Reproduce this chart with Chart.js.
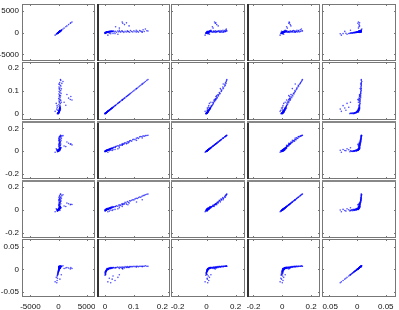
<!DOCTYPE html>
<html>
<head>
<meta charset="utf-8">
<script src="https://cdn.jsdelivr.net/npm/chart.js@4.4.0/dist/chart.umd.min.js"></script>
<style>
html, body { margin: 0; padding: 0; background: #fff; }
#wrap { position: relative; width: 399px; height: 310px; overflow: hidden; }
#wrap canvas { position: absolute; }
</style>
</head>
<body>
<div id="wrap"></div>
<script>
// five variables, one value per observation (same index = same observation)
const v1 = [40, 120, -60, 210, 80, -150, 300, 20, 160, -30, 90, 250, -110, 60, 180, 10, 140, -80, 350, 70,
            220, -20, 110, 30, 270, -200, 130, 50, 190, -40, 100, 320, 0, 150, -90, 240, 60, 170, -10, 280,
            90, 200, 30, 130, -130, 330, 70, 230, 20, 160,
            120, 260, 60, 340, 150, 220, 90, 410, 180, 30, 290, 130, 360, 200, 70, 450, 240, 110, 380, 170,
            520, 260, 90, 430, 310, 150, 600, 220, 800, 400, 350, 200, 120, 300, 80,
            2400, 1300, 2200, 1000, 1800, 1500, 2100, -300, -250, -180, -400, -600, -220, 500, 250];
const v2 = [0.004, 0.008, 0.002, 0.012, 0.006, 0.001, 0.015, 0.003, 0.010, 0.000, 0.007, 0.018, 0.002, 0.005, 0.013, 0.001, 0.009, 0.003, 0.020, 0.004,
            0.016, 0.002, 0.011, 0.006, 0.022, 0.000, 0.014, 0.007, 0.017, 0.003, 0.010, 0.024, 0.005, 0.019, 0.001, 0.026, 0.008, 0.021, 0.004, 0.028,
            0.012, 0.023, 0.009, 0.015, 0.002, 0.030, 0.011, 0.025, 0.006, 0.018,
            0.032, 0.036, 0.040, 0.044, 0.048, 0.052, 0.055, 0.059, 0.063, 0.066, 0.070, 0.074, 0.078, 0.082, 0.086, 0.089, 0.093, 0.097, 0.101, 0.105,
            0.109, 0.113, 0.117, 0.121, 0.125, 0.129, 0.133, 0.137, 0.141, 0.146, 0.150, 0.080, 0.110, 0.060, 0.130,
            0.060, 0.037, 0.075, 0.050, 0.068, 0.084, 0.062, 0.020, 0.035, 0.015, 0.045, 0.010, 0.028, 0.050, 0.025];
const v3 = [0.003, 0.010, 0.000, 0.014, 0.004, -0.003, 0.017, 0.005, 0.008, -0.002, 0.009, 0.020, 0.001, 0.007, 0.011, 0.002, 0.012, 0.000, 0.022, 0.006,
            0.015, 0.003, 0.013, 0.004, 0.025, -0.005, 0.016, 0.008, 0.019, 0.002, 0.007, 0.026, 0.006, 0.018, -0.001, 0.028, 0.011, 0.023, 0.001, 0.027,
            0.010, 0.021, 0.012, 0.013, 0.004, 0.032, 0.009, 0.024, 0.003, 0.021,
            0.035, 0.033, 0.043, 0.047, 0.045, 0.056, 0.052, 0.062, 0.066, 0.061, 0.074, 0.071, 0.082, 0.079, 0.090, 0.093, 0.088, 0.101, 0.104, 0.100,
            0.113, 0.117, 0.112, 0.125, 0.129, 0.126, 0.134, 0.131, 0.136, 0.138, 0.140, 0.070, 0.095, 0.052, 0.115,
            0.055, 0.040, 0.064, 0.045, 0.070, 0.080, 0.060, 0.008, 0.015, 0.004, 0.020, -0.010, 0.012, 0.030, 0.005];
const v4 = [0.001, 0.006, -0.004, 0.009, 0.010, -0.006, 0.012, 0.002, 0.014, -0.001, 0.004, 0.016, -0.003, 0.008, 0.006, 0.000, 0.011, 0.003, 0.019, 0.001,
            0.013, 0.005, 0.007, 0.002, 0.020, -0.008, 0.015, 0.012, 0.014, -0.002, 0.005, 0.022, 0.004, 0.017, 0.002, 0.021, 0.009, 0.025, 0.003, 0.024,
            0.013, 0.018, 0.006, 0.020, -0.005, 0.027, 0.010, 0.029, 0.007, 0.016,
            0.028, 0.030, 0.037, 0.033, 0.044, 0.046, 0.040, 0.055, 0.057, 0.050, 0.066, 0.061, 0.073, 0.068, 0.081, 0.078, 0.085, 0.090, 0.088, 0.097,
            0.102, 0.100, 0.108, 0.114, 0.111, 0.120, 0.125, 0.128, 0.133, 0.137, 0.140, 0.045, 0.070, 0.030, 0.090,
            0.048, 0.030, 0.050, 0.035, 0.055, 0.060, 0.045, 0.000, 0.005, -0.010, 0.010, -0.015, 0.002, 0.020, -0.005];
const v5 = [-0.002, 0.001, -0.006, 0.002, -0.001, -0.009, 0.003, -0.004, 0.000, -0.007, 0.002, 0.003, -0.011, -0.003, 0.001, -0.005, 0.002, -0.008, 0.004, -0.002,
            0.002, -0.006, 0.001, -0.001, 0.003, -0.013, 0.003, 0.000, 0.002, -0.004, 0.001, 0.004, -0.003, 0.002, -0.010, 0.003, 0.000, 0.002, -0.005, 0.004,
            0.001, 0.003, -0.001, 0.002, -0.012, 0.004, 0.000, 0.003, -0.002, 0.002,
            0.003, 0.004, 0.004, 0.005, 0.004, 0.005, 0.004, 0.005, 0.005, 0.004, 0.006, 0.005, 0.006, 0.005, 0.006, 0.006, 0.006, 0.006, 0.007, 0.006,
            0.007, 0.007, 0.006, 0.007, 0.007, 0.007, 0.007, 0.007, 0.008, 0.007, 0.007, 0.004, 0.005, 0.003, 0.006,
            0.002, 0.003, 0.004, 0.002, 0.003, 0.004, 0.001, -0.030, -0.025, -0.020, -0.018, -0.028, -0.015, -0.012, -0.022];

// axis limits and tick values per variable
const lim1 = [-6500, 6500],   ticks1 = [-5000, 0, 5000];
const lim2 = [-0.028, 0.227], ticks2 = [0, 0.1, 0.2];
const lim3 = [-0.245, 0.265], ticks3 = [-0.2, 0, 0.2];
const lim4 = [-0.245, 0.262], ticks4 = [-0.2, 0, 0.2];
const lim5 = [-0.062, 0.068], ticks5 = [-0.05, 0, 0.05];

const vars = [v1, v2, v3, v4, v5];
const lims = [lim1, lim2, lim3, lim4, lim5];
const tickVals = [ticks1, ticks2, ticks3, ticks4, ticks5];

// panel edges (px)
const colL = [22, 97, 171, 247, 322];
const colR = [95, 170, 245, 320, 396];
const rowT = [4, 62, 121, 180, 239];
const rowB = [61, 120, 179, 238, 297];
const W = 399, H = 310;

const boxTicks = {
    id: 'boxTicks',
    afterDraw(chart, args, opts) {
        const ctx = chart.ctx, a = chart.chartArea;
        const sx = chart.scales.x, sy = chart.scales.y;
        ctx.save();
        ctx.strokeStyle = '#777';
        ctx.lineWidth = 1;
        ctx.beginPath();
        sx.ticks.forEach(t => {
            const p = Math.round(sx.getPixelForValue(t.value)) + 0.5;
            ctx.moveTo(p, a.bottom); ctx.lineTo(p, a.bottom - 2);
            ctx.moveTo(p, a.top); ctx.lineTo(p, a.top + 2);
        });
        sy.ticks.forEach(t => {
            const p = Math.round(sy.getPixelForValue(t.value)) + 0.5;
            ctx.moveTo(a.left, p); ctx.lineTo(a.left + 2, p);
            ctx.moveTo(a.right, p); ctx.lineTo(a.right - 2, p);
        });
        ctx.stroke();
        ctx.strokeRect(a.left + 0.5, a.top + 0.5, a.right - a.left - 1, a.bottom - a.top - 1);
        // heavier edges seen between some panels
        if (opts.darkLeft) {
            ctx.fillStyle = '#333';
            ctx.fillRect(a.left, a.top, 2, a.bottom - a.top);
        }
        if (opts.thickTop) {
            ctx.fillStyle = '#888';
            ctx.fillRect(a.left, a.top, a.right - a.left, 2);
        }
        ctx.restore();
    }
};

function noPad(s) {
    s.paddingLeft = 0; s.paddingRight = 0; s.paddingTop = 0; s.paddingBottom = 0;
}

function makePanel(r, c) {
    const left = c == 0 ? 0 : colL[c];
    const top = rowT[r];
    const width = colR[c] - left;
    const height = (r == 4 ? H : rowB[r]) - top;
    const cv = document.createElement('canvas');
    cv.width = width; cv.height = height;
    cv.style.left = left + 'px'; cv.style.top = top + 'px';
    cv.style.width = width + 'px'; cv.style.height = height + 'px';
    document.getElementById('wrap').appendChild(cv);

    const xs = vars[c], ys = vars[r];
    const pts = xs.map((x, i) => ({ x: x, y: ys[i] }));
    const font = { family: '"Liberation Sans", Arial, sans-serif', size: 8 };

    new Chart(cv, {
        type: 'scatter',
        data: {
            datasets: [{
                data: pts,
                pointRadius: 0.8,
                pointBorderWidth: 0,
                pointBackgroundColor: 'rgba(0, 0, 255, 0.7)'
            }]
        },
        options: {
            animation: false,
            responsive: false,
            layout: { padding: 0, autoPadding: false },
            events: [],
            plugins: {
                legend: { display: false },
                tooltip: { enabled: false },
                boxTicks: { darkLeft: c == 1 || c == 3, thickTop: r == 2 || r == 3 }
            },
            scales: {
                x: {
                    type: 'linear',
                    min: lims[c][0], max: lims[c][1],
                    afterBuildTicks: s => { s.ticks = tickVals[c].map(v => ({ value: v })); },
                    afterFit: s => { s.height = r == 4 ? H - rowB[4] : 0; noPad(s); },
                    grid: { display: false, drawTicks: false, tickLength: 0 },
                    border: { display: false },
                    ticks: { display: r == 4, autoSkip: false, maxRotation: 0, padding: 5, color: '#111', font: font,
                             callback: v => String(v) }
                },
                y: {
                    type: 'linear',
                    min: lims[r][0], max: lims[r][1],
                    afterBuildTicks: s => { s.ticks = tickVals[r].map(v => ({ value: v })); },
                    afterFit: s => { s.width = c == 0 ? colL[0] : 0; noPad(s); },
                    grid: { display: false, drawTicks: false, tickLength: 0 },
                    border: { display: false },
                    ticks: { display: c == 0, autoSkip: false, padding: 3, color: '#111', font: font,
                             callback: v => String(v) }
                }
            }
        },
        plugins: [boxTicks]
    });
}

for (let r = 0; r < 5; r++) {
    for (let c = 0; c < 5; c++) {
        makePanel(r, c);
    }
}
</script>
</body>
</html>
